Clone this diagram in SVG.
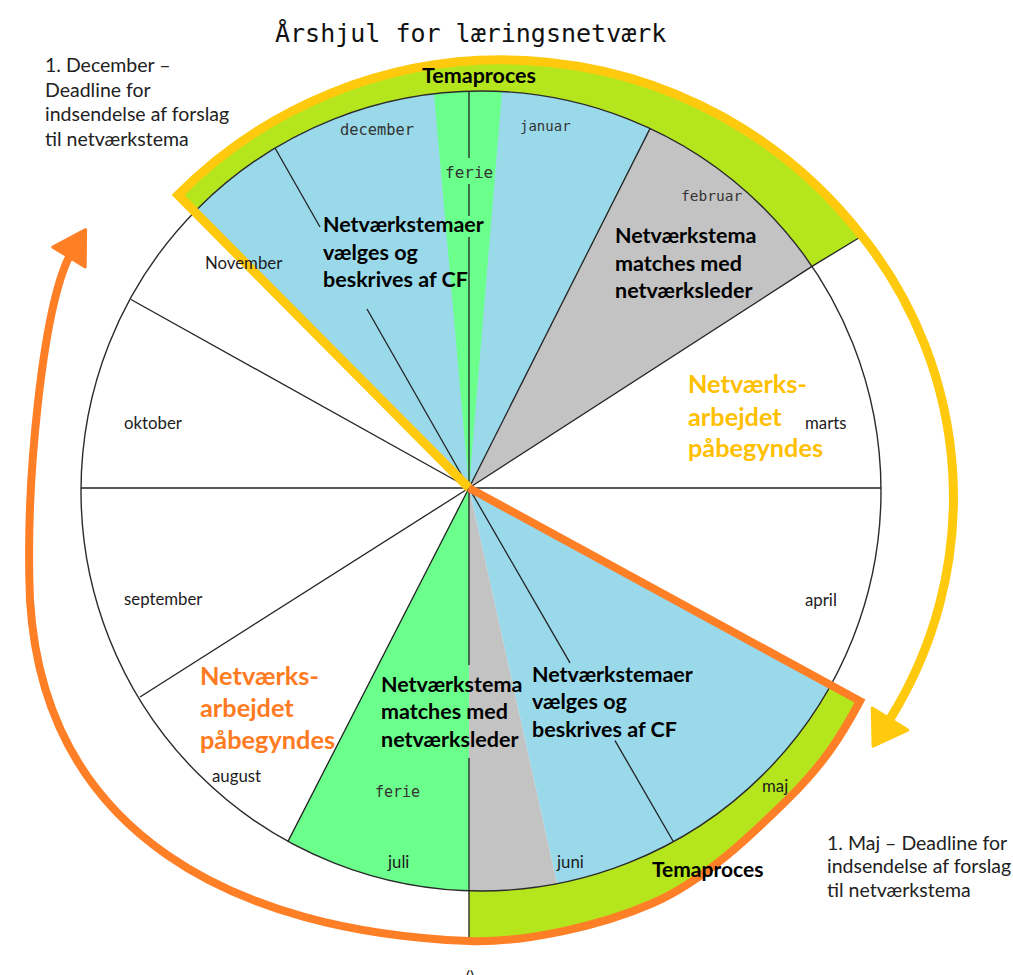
<svg xmlns="http://www.w3.org/2000/svg" width="1013" height="975" viewBox="0 0 1013 975">
  <style>
    .spoke{stroke:#222;stroke-width:1.3;fill:none}
    .rim{stroke:#2b2b2b;stroke-width:1.4;fill:none}
    .month{font-family:Lato,"Liberation Sans",sans-serif;font-size:16.8px;fill:#1c1c1c}
    .mono{font-family:"DejaVu Sans Mono","Liberation Mono",monospace;fill:#333}
    .bold{font-family:Lato,"Liberation Sans",sans-serif;font-weight:700;font-size:21.5px;fill:#000}
    .big{font-family:Lato,"Liberation Sans",sans-serif;font-weight:700;font-size:25.3px}
    .note{font-family:Lato,"Liberation Sans",sans-serif;font-size:19.5px;fill:#222}
    .blue{fill:#99d9ea}
    .green{fill:#6bff8c}
    .gray{fill:#c3c3c3}
    .lime{fill:#b5e61d}
  </style>

  <rect width="1013" height="975" fill="#fff"/>

  <!-- title -->
  <text x="275" y="42" font-family="DejaVu Sans Mono, Liberation Mono, monospace" font-size="25" fill="#111">Årshjul for læringsnetværk</text>

  <!-- winter half: theme process Dec-Feb -->
  <g id="winter-process">
    <path class="lime" d="M194.6,211.7 A400,400 0 0 1 812,266.4 L862,236 A456,456 0 0 0 178,195 Z"/>
    <path class="blue" d="M469,488 L194.6,211.7 A400,400 0 0 1 650,128.6 Z"/>
    <path class="green" d="M469,488 L434,93.8 A400,400 0 0 1 502,91.6 Z"/>
    <path class="gray" d="M469,488 L650,128.6 A400,400 0 0 1 812,266.4 Z"/>
  </g>

  <!-- summer half: theme process May-Jul -->
  <g id="summer-process">
    <path class="lime" d="M830.8,685.1 A400,400 0 0 1 469,890.8 L469,941 C522,943 600,926.5 653,903 C706,879.5 752.5,833.7 787,800 C821.5,766.3 839.8,739 860,701 Z"/>
    <path class="blue" d="M469,488 L830.8,685.1 A400,400 0 0 1 557,883.7 Z"/>
    <path class="gray" d="M469,488 L557,883.7 A400,400 0 0 1 469,890.8 Z"/>
    <path class="green" d="M469,488 L469,890.8 A400,400 0 0 1 288,841.4 Z"/>
  </g>

  <!-- month divisions and rim -->
  <g id="wheel">
    <circle class="rim" cx="481" cy="491" r="400"/>
    <line class="spoke" x1="81" y1="488" x2="881" y2="488"/>
    <line class="spoke" x1="469" y1="92" x2="469" y2="158"/>
    <line class="spoke" x1="469" y1="184" x2="469" y2="216"/>
    <line class="spoke" x1="469" y1="237" x2="469" y2="488"/>
    <line class="spoke" x1="469" y1="488" x2="469" y2="665"/>
    <line class="spoke" x1="469" y1="758" x2="469" y2="940"/>
    <line class="spoke" x1="469" y1="488" x2="131" y2="299.5"/>
    <line class="spoke" x1="469" y1="488" x2="140" y2="697"/>
    <line class="spoke" x1="469" y1="488" x2="288" y2="841.4"/>
    <line class="spoke" x1="275" y1="148" x2="320" y2="227"/>
    <line class="spoke" x1="367" y1="309" x2="469" y2="488"/>
    <line class="spoke" x1="469" y1="488" x2="650" y2="128.6"/>
    <line class="spoke" x1="469" y1="488" x2="812" y2="266.4"/>
    <line class="spoke" x1="812" y1="266.4" x2="862" y2="236"/>
    <line class="spoke" x1="469" y1="488" x2="570" y2="662.8"/>
    <line class="spoke" x1="615" y1="740.6" x2="673" y2="841"/>
    <circle cx="469" cy="488" r="2" fill="#111"/>
  </g>

  <!-- cycle arrows -->
  <g id="connectors" fill="none" stroke-linejoin="miter">
    <path d="M469,488 L178,195 A456,456 0 0 1 862,236 A419,419 0 0 1 890,719" stroke="#ffc90e" stroke-width="9"/>
    <polygon points="872.2,707.9 907.8,730.1 873.1,746.2" fill="#ffc90e" stroke="#ffc90e" stroke-width="3" stroke-linejoin="round"/>
    <path d="M469,488 L860,701 C839.8,739 821.5,766.3 787,800 C752.5,833.7 706,879.5 653,903 C600,926.5 522,943 469,941 C236,931.6 44,835 30,600 C25,480 43,310.4 69,257" stroke="#ff7f27" stroke-width="8"/>
    <polygon points="52.8,247.1 85.2,266.9 85.6,229.7" fill="#ff7f27" stroke="#ff7f27" stroke-width="3" stroke-linejoin="round"/>
  </g>

  <!-- month names -->
  <g id="months">
    <text class="mono" x="340" y="135" font-size="15.4">december</text>
    <text class="mono" x="520" y="131" font-size="14">januar</text>
    <text class="mono" x="681" y="201" font-size="14.5">februar</text>
    <text class="month" x="205" y="269">November</text>
    <text class="month" x="124" y="429">oktober</text>
    <text class="month" x="805" y="429">marts</text>
    <text class="month" x="124" y="605">september</text>
    <text class="month" x="805" y="606">april</text>
    <text class="month" x="212" y="782">august</text>
    <text class="month" x="762" y="792">maj</text>
    <text class="month" x="388" y="868">juli</text>
    <text class="month" x="557" y="868">juni</text>
    <text class="mono" x="445" y="178" font-size="16">ferie</text>
    <text class="mono" x="375" y="797" font-size="15">ferie</text>
  </g>

  <!-- activity labels -->
  <g id="winter-labels">
    <text class="bold" x="479" y="83" text-anchor="middle">Temaproces</text>
    <text class="bold" x="323" y="232">Netværkstemaer</text>
    <text class="bold" x="323" y="260">vælges og</text>
    <text class="bold" x="323" y="287">beskrives af CF</text>
    <text class="bold" x="615" y="243">Netværkstema</text>
    <text class="bold" x="615" y="271">matches med</text>
    <text class="bold" x="615" y="298">netværksleder</text>
  </g>
  <g id="spring-start" class="big" fill="#ffc000">
    <text x="688" y="393">Netværks-</text>
    <text x="688" y="426">arbejdet</text>
    <text x="688" y="457">påbegyndes</text>
  </g>
  <g id="summer-labels">
    <text class="bold" x="652" y="877" style="font-size:21px">Temaproces</text>
    <text class="bold" x="381" y="692">Netværkstema</text>
    <text class="bold" x="381" y="719">matches med</text>
    <text class="bold" x="381" y="747">netværksleder</text>
    <text class="bold" x="532" y="682">Netværkstemaer</text>
    <text class="bold" x="532" y="709">vælges og</text>
    <text class="bold" x="532" y="737">beskrives af CF</text>
  </g>
  <g id="autumn-start" class="big" fill="#ff7b22">
    <text x="200" y="685">Netværks-</text>
    <text x="200" y="717">arbejdet</text>
    <text x="200" y="749">påbegyndes</text>
  </g>

  <!-- deadlines -->
  <g id="deadline-december" class="note">
    <text x="45" y="72">1. December –</text>
    <text x="45" y="97">Deadline for</text>
    <text x="45" y="121">indsendelse af forslag</text>
    <text x="45" y="146">til netværkstema</text>
  </g>
  <g id="deadline-may" class="note">
    <text x="827" y="850">1. Maj – Deadline for</text>
    <text x="827" y="873">indsendelse af forslag</text>
    <text x="827" y="897">til netværkstema</text>
  </g>

  <text x="470" y="982" text-anchor="middle" font-family="Lato, sans-serif" font-size="16" fill="#222">()</text>
</svg>
